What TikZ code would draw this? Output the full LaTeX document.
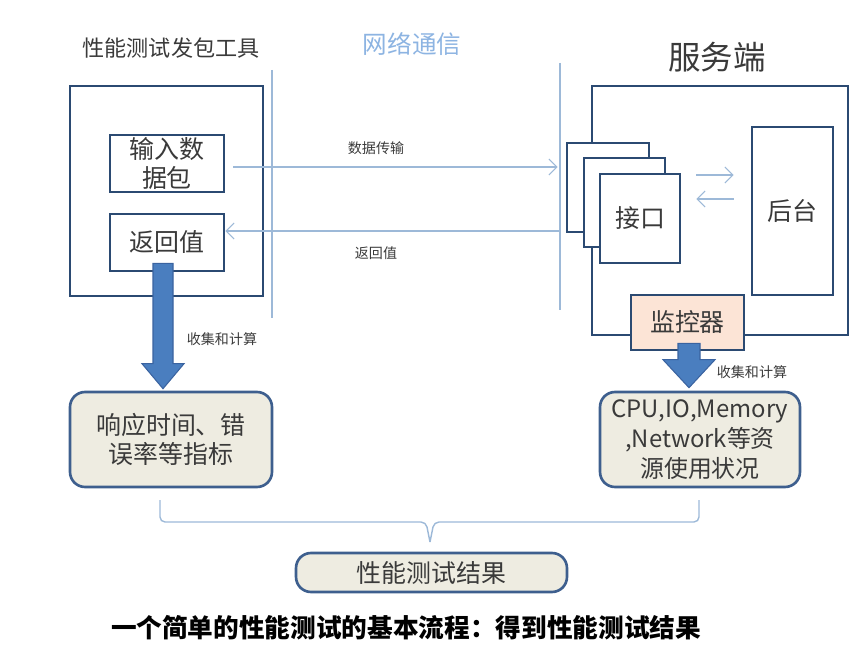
\documentclass[tikz,border=0pt]{standalone}
\usepackage{fontspec}
\setmainfont{Noto Sans CJK SC}
\usetikzlibrary{arrows.meta,calc,positioning}

\definecolor{boxline}{HTML}{2B4A72}
\definecolor{linkblue}{HTML}{9DB9D8}
\definecolor{netblue}{HTML}{8DB4E2}
\definecolor{textgrey}{HTML}{3A3A3A}
\definecolor{bigfill}{HTML}{4A7EBF}
\definecolor{bigline}{HTML}{3A63A0}
\definecolor{panelfill}{HTML}{EEECE1}
\definecolor{panelline}{HTML}{3E5F8E}
\definecolor{monfill}{HTML}{FCE4D6}

\newcommand{\titlefont}{\fontsize{12.6pt}{15pt}\selectfont}
\newcommand{\boxfont}{\fontsize{14.2pt}{16pt}\selectfont}
\newcommand{\tinyfont}{\fontsize{8pt}{10pt}\selectfont}

\tikzset{
  box/.style={draw=boxline, line width=1.5pt, fill=white, text=textgrey,
    inner sep=0pt, align=center, font=\boxfont},
  panel/.style={box, draw=panelline, fill=panelfill, rounded corners=0.3cm,
    font=\fontsize{14.2pt}{17pt}\selectfont},
  link/.style={draw=linkblue, line width=0.6pt,
    -{Straight Barb[length=1.6mm,width=3.2mm]}},
  netline/.style={draw=linkblue, line width=0.8pt},
  bigarrow/.style={fill=bigfill, draw=bigline, line width=0.6pt},
  label/.style={text=textgrey, inner sep=0pt},
}

\begin{document}
\begin{tikzpicture}[x=0.02cm, y=-0.02cm]
\useasboundingbox (0,0) rectangle (866,645);

% Titles
\node[label, font=\titlefont] (tooltitle) at (171,48) {性能测试发包工具};
\node[label, text=netblue, font=\fontsize{14pt}{16pt}\selectfont] (nettitle) at (412,44) {网络通信};
\node[label, font=\fontsize{18.5pt}{20pt}\selectfont] (srvtitle) at (717,57) {服务端};

% Network boundary lines
\coordinate (netLtop) at (272,70);
\coordinate (netLbot) at (272,318);
\coordinate (netRtop) at (560,63);
\coordinate (netRbot) at (560,310);
\draw[netline] (netLtop) -- (netLbot);
\draw[netline] (netRtop) -- (netRbot);

% Client side
\node[box, minimum width=3.86cm, minimum height=4.2cm] (tool) at (166.5,191) {};
\node[box, minimum width=2.28cm, minimum height=1.14cm,
  font=\fontsize{14.2pt}{16pt}\selectfont] (pkt) at (167,163.5) {输入数\\据包};
\node[box, minimum width=2.28cm, minimum height=1.14cm] (ret) at (167,242.5) {返回值};

% Server side
\node[box, minimum width=5.12cm, minimum height=4.98cm] (server) at (720,210.5) {};
\node[box, minimum width=1.64cm, minimum height=1.78cm] (ifa) at (608,187.5) {};
\node[box, minimum width=1.62cm, minimum height=1.78cm] (ifb) at (624.5,202.5) {};
\node[box, minimum width=1.60cm, minimum height=1.78cm] (ifc) at (640,218.5) {接口};
\node[box, minimum width=1.62cm, minimum height=3.36cm] (back) at (792.5,211) {后台};
\node[box, fill=monfill, minimum width=2.26cm, minimum height=1.1cm] (mon) at (687.5,322.5) {监控器};

% Data transfer
\coordinate (sendL) at ($(pkt.east)+(8,3.5)$);
\draw[link, shorten >=0.16cm] (sendL) -- (sendL -| ifa.west);
\node[label, font=\tinyfont] (sendlbl) at (376,148) {数据传输};
\coordinate (retR) at ($(ret.east)+(0,-11.5)$);
\draw[link, shorten <=0.14cm] (retR -| ifa.west) -- (retR);
\node[label, font=\tinyfont] (retlbl) at (376,253) {返回值};

% Interface <-> backend
\coordinate (ifcA) at ($(ifc.east)+(0,-43.5)$);
\coordinate (ifcB) at ($(ifc.east)+(0,-19.5)$);
\draw[link, shorten <=0.3cm, shorten >=0.34cm] (ifcA) -- (ifcA -| back.west);
\draw[link, shorten <=0.34cm, shorten >=0.3cm] (ifcB -| back.west) -- (ifcB);

% Results
\node[panel, minimum width=4.04cm, minimum height=1.9cm] (resp) at (171,439.5) {响应时间、错\\误率等指标};
\node[panel, minimum width=4.0cm, minimum height=1.9cm,
  font=\fontsize{13.6pt}{17pt}\selectfont] (res) at (700,439.5) {CPU,IO,Memory\\,Network等资\\源使用状况};
\node[panel, minimum width=5.42cm, minimum height=0.78cm] (final) at (431.5,572.5) {性能测试结果};

% Collecting arrows
\coordinate (ltop) at ($(ret.south)+(-4,-9)$);
\coordinate (ltip) at ($(ltop |- resp.north)+(0,-2)$);
\draw[bigarrow] ($(ltop)+(-10,0)$) -- ($(ltip)+(-10,-25)$) -- ($(ltip)+(-21,-25)$)
  -- (ltip) -- ($(ltip)+(21,-25)$) -- ($(ltip)+(10,-25)$) -- ($(ltop)+(10,0)$) -- cycle;
\node[label, font=\tinyfont] (lcollect) at (222,339) {收集和计算};
\coordinate (rtop) at ($(mon.south)+(1.5,-8)$);
\coordinate (rtip) at ($(rtop |- res.north)+(0,-3)$);
\draw[bigarrow] ($(rtop)+(-11,0)$) -- ($(rtip)+(-11,-28)$) -- ($(rtip)+(-26,-28)$)
  -- (rtip) -- ($(rtip)+(26,-28)$) -- ($(rtip)+(11,-28)$) -- ($(rtop)+(11,0)$) -- cycle;
\node[label, font=\tinyfont] (rcollect) at (752,372) {收集和计算};

% Brace joining both results
\draw[netline, rounded corners=0.1cm] (160,500) -- (160,522) -- (426,522) -- (430,542);
\draw[netline, rounded corners=0.1cm] (699,500) -- (699,522) -- (434,522) -- (430,542);

% Caption
\node[label, text=black, font=\fontsize{14.6pt}{16pt}\selectfont\bfseries] (caption) at (406,628)
  {一个简单的性能测试的基本流程：得到性能测试结果};
\end{tikzpicture}
\end{document}
